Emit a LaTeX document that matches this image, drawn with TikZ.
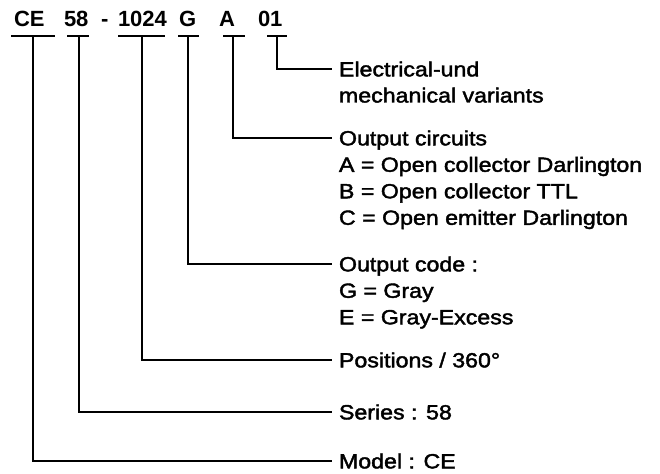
\documentclass[tikz,border=0pt]{standalone}
\usepackage{fontspec}
\setmainfont{Liberation Sans}
\newfontfamily\labfont[FakeStretch=1.13,FakeBold=2]{Liberation Sans}
\newfontfamily\codefont{Liberation Sans}
\begin{document}
\begin{tikzpicture}[x=1pt,y=-1pt,line width=2pt,line join=miter,
  code/.style={anchor=base west,inner sep=0pt,font=\codefont\bfseries\fontsize{22}{22}\selectfont},
  lab/.style={anchor=west,inner xsep=6pt,inner ysep=0pt,text height=14.7pt,text depth=0pt,
    font=\labfont\fontsize{20.5}{26}\selectfont},
  sub/.style={anchor=base west,inner sep=0pt,font=\labfont\fontsize{20.5}{26}\selectfont},
  conn/.style={draw=black,line width=2pt}]
\useasboundingbox (0,0) rectangle (660,473);
% code letters
\node[code] (tCE) at (13,27) {CE};
\node[code] (t58) at (63,27) {58};
\node[code] (tdash) at (100,27) {-};
\node[code] (t1024) at (117,27) {1024};
\node[code] (tG) at (178,27) {G};
\node[code] (tA) at (218,27) {A};
\node[code] (t01) at (257,27) {01};
% underline anchors
\coordinate (uCE) at (33,36);
\coordinate (u58) at (79,36);
\coordinate (u1024) at (142,36);
\coordinate (uG) at (188,36);
\coordinate (uA) at (233,36);
\coordinate (u01) at (277,36);
\draw[conn] ([xshift=-22pt]uCE) -- ([xshift=22pt]uCE);
\draw[conn] ([xshift=-12pt]u58) -- ([xshift=10pt]u58);
\draw[conn] ([xshift=-24pt]u1024) -- ([xshift=23pt]u1024);
\draw[conn] ([xshift=-10pt]uG) -- ([xshift=11pt]uG);
\draw[conn] ([xshift=-10pt]uA) -- ([xshift=12pt]uA);
\draw[conn] ([xshift=-10pt]u01) -- ([xshift=10pt]u01);
% labels
\node[lab] (lE) at (332,69) {Electrical-und};
\node[sub] (lE2) at (338,102.5) {mechanical variants};
\node[lab] (lO) at (332,138) {Output circuits};
\node[sub] (lO2) at (338,171.8) {A = Open collector Darlington};
\node[sub] (lO3) at (338,198.3) {B = Open collector TTL};
\node[sub] (lO4) at (338,224.8) {C = Open emitter Darlington};
\node[lab] (lC) at (332,264) {Output code :};
\node[sub] (lC2) at (338,297.8) {G = Gray};
\node[sub] (lC3) at (338,324.3) {E = Gray-Excess};
\node[lab] (lP) at (332,360) {Positions / 360°};
\node[lab] (lS) at (332,412) {Series : 58};
\node[lab] (lM) at (332,461) {Model : CE};
% connectors
\draw[conn] (u01) |- (lE.west);
\draw[conn] (uA) |- (lO.west);
\draw[conn] (uG) |- (lC.west);
\draw[conn] (u1024) |- (lP.west);
\draw[conn] (u58) |- (lS.west);
\draw[conn] (uCE) |- (lM.west);
\end{tikzpicture}
\end{document}
